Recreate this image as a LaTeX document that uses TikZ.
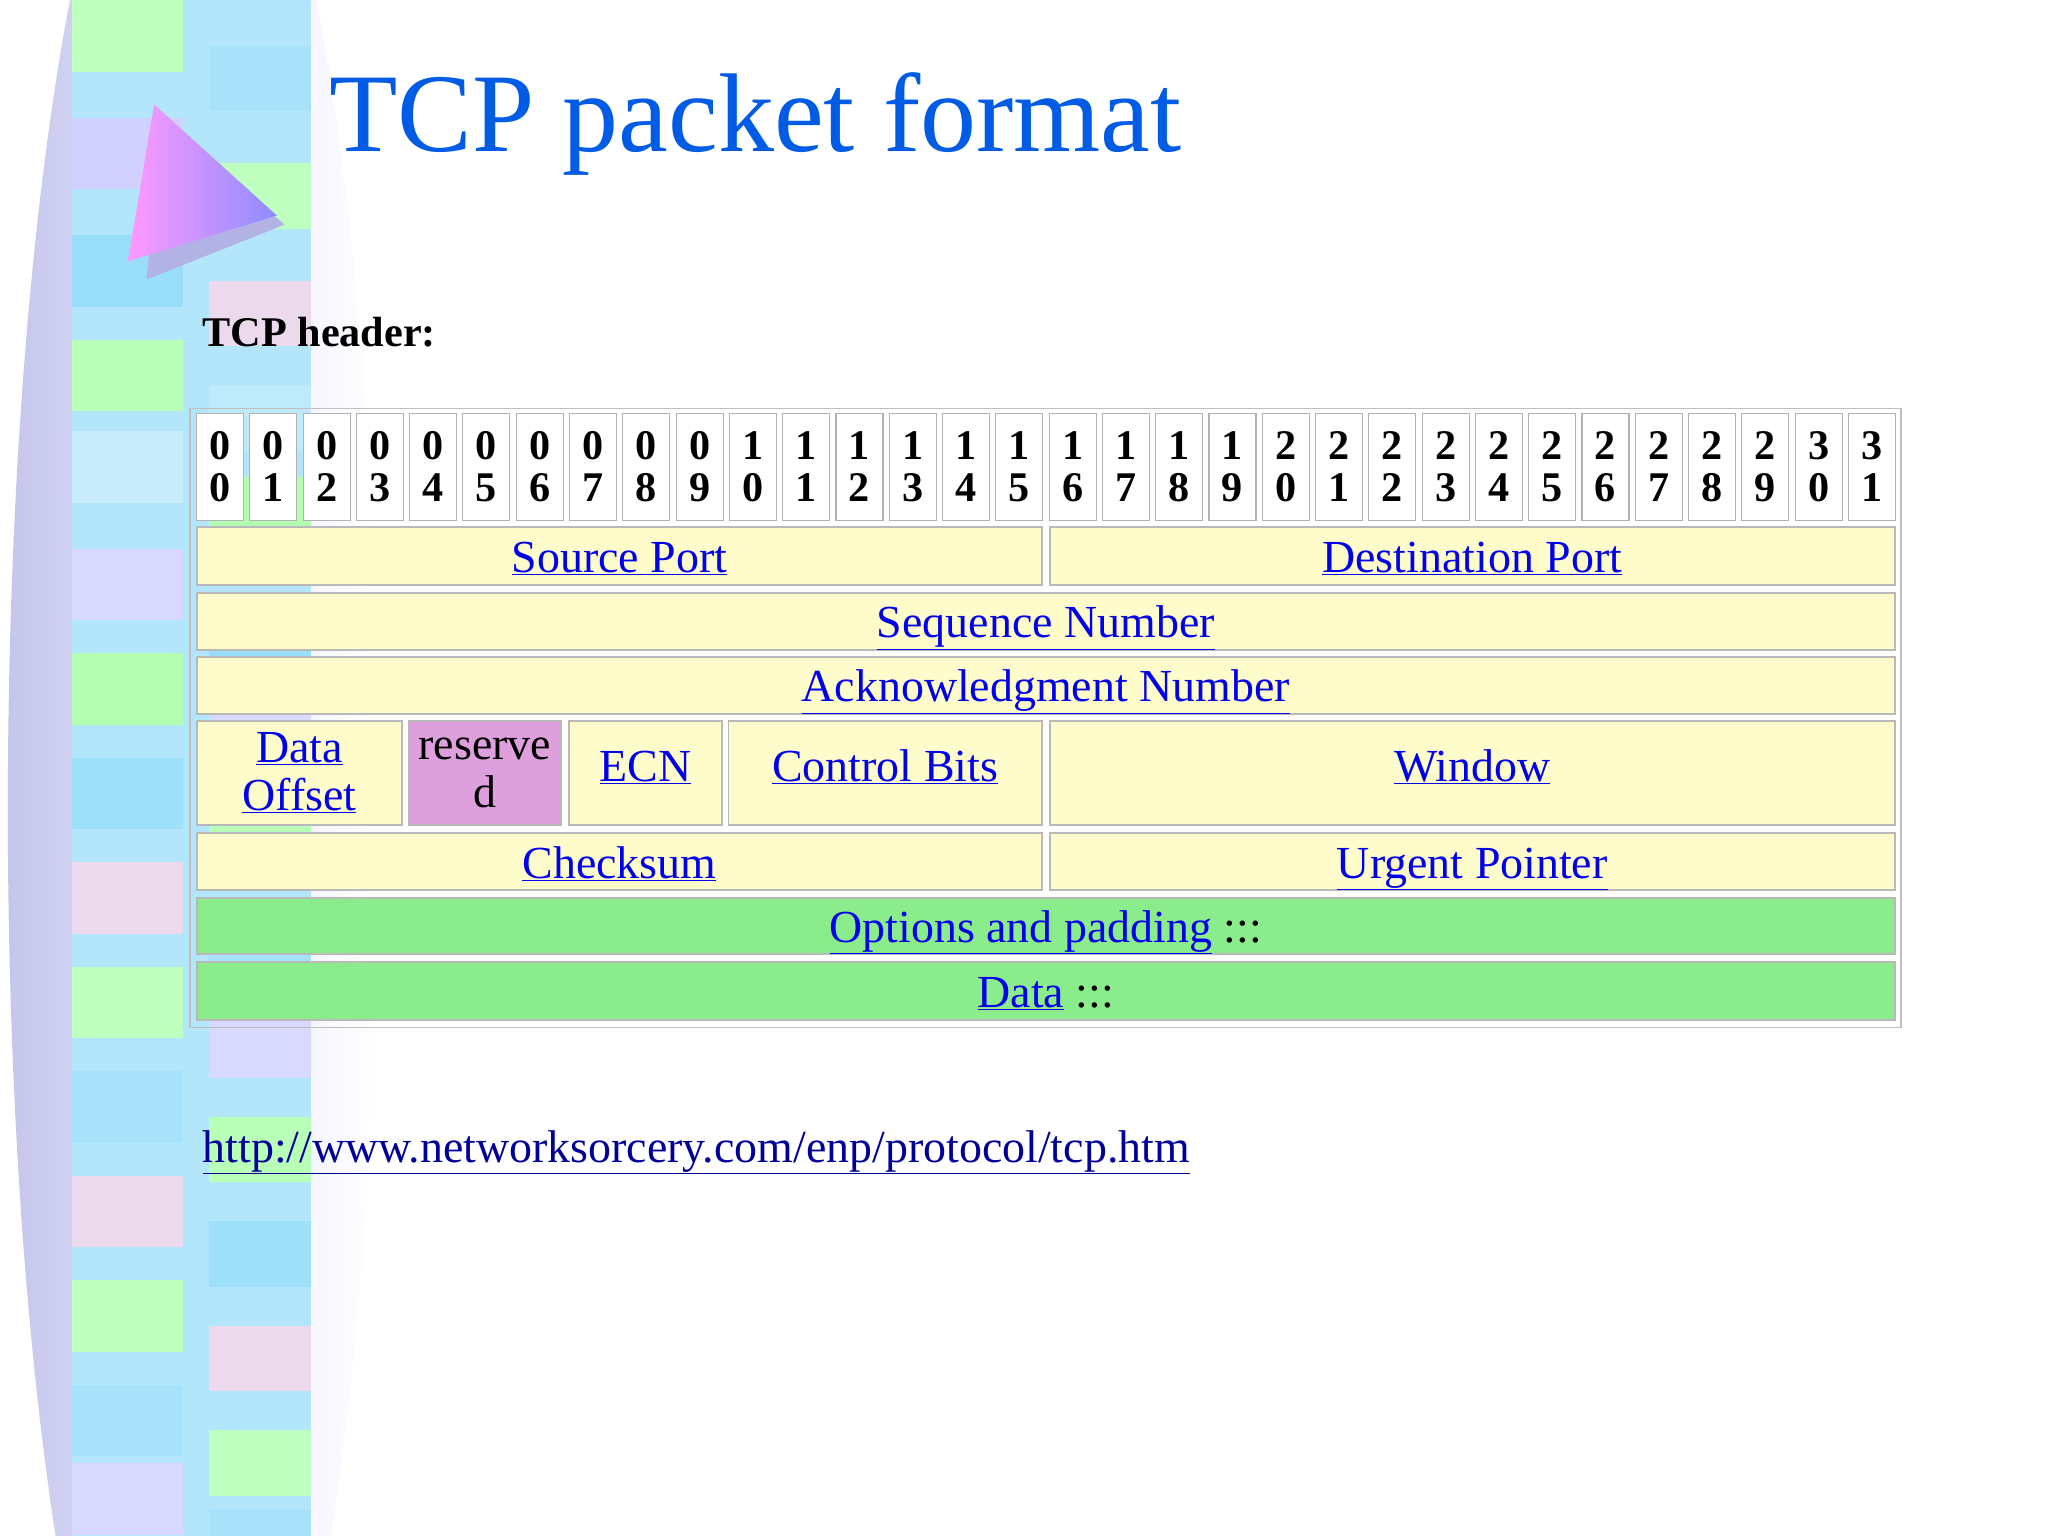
\documentclass[tikz,border=0pt]{standalone}
\usepackage{fontspec}
\setmainfont{Liberation Serif}
\definecolor{plum}{HTML}{DDA0DD}
\begin{document}
\begin{tikzpicture}[x=0.05cm,y=-0.05cm,
  fld/.style={draw=gray!55,line width=2pt,fill=yellow!20!white,inner sep=0pt,anchor=north west,align=center},
  grn/.style={fld,fill=green!45!white!85!gray},
  dig/.style={font=\fontsize{46}{50}\selectfont\bfseries,align=center},
  lk/.style={text=blue!93!black,font=\fontsize{50}{50}\selectfont,anchor=base,yshift=0.5cm,inner sep=0pt},
  lkt/.style={lk,yshift=1.2cm}]
\useasboundingbox (0,0) rectangle (1568,1176);
\fill[white] (0,0) rectangle (1568,1176);
% pillar
\shade[left color=gray!50!blue!30,right color=white,middle color=blue!10] (148,620) ellipse (142 and 830);
\fill[cyan!30] (55,0) rectangle (238,1176);
\foreach \y/\c/\d in {0/green!25/cyan!35,90/blue!18/green!25,180/cyan!40/violet!15,260/green!28/cyan!25,330/cyan!22/green!30,420/blue!15/cyan!40,500/green!30/blue!15,580/cyan!38/green!28,660/violet!15/cyan!35,740/green!25/blue!15,820/cyan!35/green!28,900/violet!15/cyan!38,980/green!25/violet!15,1060/cyan!35/green!25,1120/blue!15/cyan!35}{
  \fill[\c] (55,\y) rectangle (140,\y+55);
  \fill[\d] (160,\y+35) rectangle (238,\y+85);
}
% triangle
\fill[gray!50!blue!40] (125,95) -- (218,172) -- (112,214) -- cycle;
\shade[left color=magenta!40,right color=blue!45] (118,80) -- (212,165) -- (98,200) -- cycle;
\node[anchor=base west,text=blue!60!cyan!90!black,font=\fontsize{122}{122}\selectfont,inner sep=0pt] (title) at (252,116) {TCP packet format};
\node[anchor=base west,font=\fontsize{46}{46}\selectfont\bfseries,inner sep=0pt] (hdr) at (155,265) {TCP header:};
% table
\node[draw=gray!50,line width=2pt,minimum width=1310*0.05cm,minimum height=474*0.05cm,anchor=north west,inner sep=0pt] (tbl) at (145,312) {};
\foreach \i in {0,...,31}{
  \pgfmathsetmacro\xx{150+\i*40.8}
  \pgfmathtruncatemacro\a{int(\i/10)}
  \pgfmathtruncatemacro\b{mod(\i,10)}
  \node[draw=gray!60,line width=1.2pt,fill=white,minimum width=36*0.05cm,minimum height=82*0.05cm,anchor=north west,inner sep=0pt,dig] (c\i) at (\xx,316) {\a\\[-4pt]\b};
}
\newcommand\fl[6]{\node[#1,minimum width=#4*0.05cm,minimum height=#5*0.05cm] (#6) at (#2,#3) {};}
\fl{fld}{150}{403}{647}{44}{sp}\node[lk] at (sp.south) {\underline{Source Port}};
\fl{fld}{803}{403}{647}{44}{dp}\node[lk] at (dp.south) {\underline{Destination Port}};
\fl{fld}{150}{453}{1300}{44}{sq}\node[lk] at (sq.south) {\underline{Sequence Number}};
\fl{fld}{150}{502}{1300}{44}{ak}\node[lk] at (ak.south) {\underline{Acknowledgment Number}};
\fl{fld}{150}{551}{157}{80}{do}\node[text=blue!93!black,font=\fontsize{50}{52}\selectfont,align=center] at (do) {\underline{Data}\\\underline{Offset}};
\fl{fld,fill=plum}{312}{551}{117}{80}{rs}\node[font=\fontsize{50}{52}\selectfont,align=center] at (rs) {reserve\\d};
\fl{fld}{435}{551}{117}{80}{ec}\node[lkt] at (ec.south) {\underline{ECN}};
\fl{fld}{557}{551}{240}{80}{cb}\node[lkt] at (cb.south) {\underline{Control Bits}};
\fl{fld}{803}{551}{647}{80}{wn}\node[lkt] at (wn.south) {\underline{Window}};
\fl{fld}{150}{637}{647}{44}{cs}\node[lk] at (cs.south) {\underline{Checksum}};
\fl{fld}{803}{637}{647}{44}{up}\node[lk] at (up.south) {\underline{Urgent Pointer}};
\fl{grn}{150}{687}{1300}{43}{op}\node[lk,text=black] at (op.south) {\textcolor{blue!93!black}{\underline{Options and padding}} :::};
\fl{grn}{150}{736}{1300}{44}{dt}\node[lk,text=black] at (dt.south) {\textcolor{blue!93!black}{\underline{Data}} :::};
\node[anchor=base west,inner sep=0pt,text=blue!60!black,font=\fontsize{50}{50}\selectfont] (url) at (155,890) {\underline{http://www.networksorcery.com/enp/protocol/tcp.htm}};
\end{tikzpicture}
\end{document}
